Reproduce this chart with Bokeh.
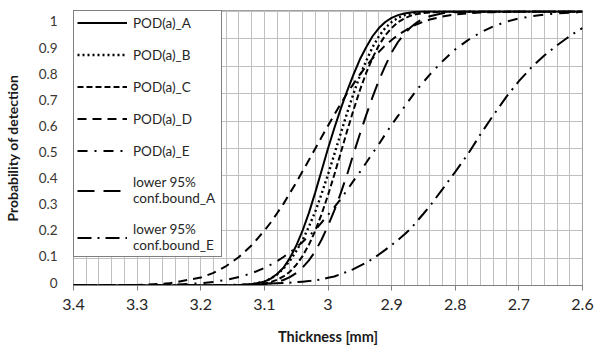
from bokeh.plotting import figure
from bokeh.models import (Range1d, FixedTicker, CustomJSTickFormatter, Legend,
                          LegendItem, LinearAxis)
from bokeh.embed import file_html
from bokeh.resources import INLINE

thickness = [3.40, 3.30, 3.25, 3.20, 3.18, 3.16, 3.14, 3.12,
             3.10, 3.09, 3.08, 3.07, 3.06, 3.05, 3.04, 3.03, 3.02, 3.01,
             3.00, 2.99, 2.98, 2.97, 2.96, 2.95, 2.94, 2.93, 2.92, 2.91,
             2.90, 2.89, 2.88, 2.87, 2.86, 2.85, 2.84,
             2.82, 2.80, 2.78, 2.76, 2.74, 2.72, 2.70, 2.68, 2.66, 2.64, 2.62, 2.60]

pod_A = [0, 0, 0, 0, 0, 0.0003, 0.001, 0.005,
         0.014, 0.025, 0.042, 0.065, 0.10, 0.145, 0.20, 0.265, 0.34, 0.42,
         0.50, 0.575, 0.645, 0.71, 0.77, 0.825, 0.87, 0.91, 0.94, 0.962,
         0.977, 0.987, 0.993, 0.997, 0.999, 1.0, 1.0,
         1.0, 1.0, 1.0, 1.0, 1.0, 1.0, 1.0, 1.0, 1.0, 1.0, 1.0, 1.0]

pod_B = [0, 0, 0, 0, 0, 0.0003, 0.001, 0.004,
         0.014, 0.025, 0.04, 0.062, 0.09, 0.125, 0.165, 0.215, 0.27, 0.335,
         0.405, 0.48, 0.555, 0.63, 0.70, 0.765, 0.82, 0.87, 0.91, 0.94,
         0.962, 0.977, 0.987, 0.993, 0.997, 0.999, 1.0,
         1.0, 1.0, 1.0, 1.0, 1.0, 1.0, 1.0, 1.0, 1.0, 1.0, 1.0, 1.0]

pod_C = [0, 0, 0, 0, 0, 0.0001, 0.0006, 0.0023,
         0.0073, 0.0125, 0.021, 0.033, 0.05, 0.075, 0.107, 0.149, 0.20, 0.261,
         0.33, 0.405, 0.484, 0.564, 0.64, 0.712, 0.776, 0.831, 0.877, 0.913,
         0.94, 0.961, 0.975, 0.985, 0.991, 0.995, 0.997,
         0.999, 1.0, 1.0, 1.0, 1.0, 1.0, 1.0, 1.0, 1.0, 1.0, 1.0, 1.0]

pod_D = [0, 0.0016, 0.0078, 0.029, 0.046, 0.071, 0.104, 0.147,
         0.20, 0.23, 0.264, 0.298, 0.337, 0.376, 0.417, 0.458, 0.50, 0.542,
         0.583, 0.624, 0.663, 0.702, 0.736, 0.77, 0.80, 0.829, 0.853, 0.877,
         0.896, 0.915, 0.929, 0.943, 0.954, 0.963, 0.971,
         0.982, 0.990, 0.994, 0.997, 0.998, 0.999, 1.0, 1.0, 1.0, 1.0, 1.0, 1.0]

pod_E = [0, 0.0006, 0.0023, 0.0084, 0.0132, 0.0207, 0.0307, 0.0446,
         0.0643, 0.076, 0.0885, 0.104, 0.121, 0.138, 0.159, 0.181, 0.203, 0.23,
         0.258, 0.286, 0.316, 0.348, 0.382, 0.414, 0.448, 0.483, 0.516, 0.552,
         0.587, 0.619, 0.652, 0.684, 0.716, 0.743, 0.770,
         0.819, 0.862, 0.896, 0.924, 0.946, 0.963, 0.975, 0.983, 0.989, 0.993, 0.996, 0.998]

lower_A = [0, 0, 0, 0, 0, 0.0001, 0.0004, 0.0015,
           0.0047, 0.0078, 0.0125, 0.020, 0.0307, 0.0455, 0.0655, 0.092, 0.125, 0.168,
           0.218, 0.274, 0.337, 0.405, 0.48, 0.552, 0.622, 0.688, 0.749, 0.802,
           0.851, 0.889, 0.919, 0.943, 0.961, 0.974, 0.983,
           0.994, 0.998, 1.0, 1.0, 1.0, 1.0, 1.0, 1.0, 1.0, 1.0, 1.0, 1.0]

lower_E = [0, 0, 0.0005, 0.001, 0.0015, 0.002, 0.003, 0.004,
           0.006, 0.007, 0.008, 0.009, 0.01, 0.012, 0.014, 0.016, 0.019, 0.022,
           0.028, 0.033, 0.042, 0.05, 0.06, 0.072, 0.083, 0.097, 0.113, 0.13,
           0.148, 0.166, 0.186, 0.208, 0.235, 0.262, 0.29,
           0.352, 0.415, 0.48, 0.553, 0.622, 0.688, 0.746, 0.797, 0.84, 0.877, 0.911, 0.94]

series_names = ["POD(a)_A", "POD(a)_B", "POD(a)_C", "POD(a)_D", "POD(a)_E",
                "lower 95%\nconf.bound_A", "lower 95%\nconf.bound_E"]
series_values = [pod_A, pod_B, pod_C, pod_D, pod_E, lower_A, lower_E]

x_tick_values = [3.4, 3.3, 3.2, 3.1, 3.0, 2.9, 2.8, 2.7, 2.6]
y_tick_values = [0, 0.1, 0.2, 0.3, 0.4, 0.5, 0.6, 0.7, 0.8, 0.9, 1.0]

for vals in series_values:
    assert len(vals) == len(thickness)

# styles: (dash, width)
styles = [("solid", 2), ("2 3", 2.4), ("6 3", 2), ("9 6", 2), ("10 7 2 7", 2),
          ("17 9", 2), ("14 6 2 6", 2)]

p = figure(width=594, height=347,
           x_range=Range1d(3.4, 2.6), y_range=Range1d(0, 1.004),
           output_backend="svg", toolbar_location=None,
           min_border_left=71, min_border_right=12, min_border_top=10, min_border_bottom=59,
           background_fill_color="white", border_fill_color="white")

minor_x = [round(3.4 - 0.02 * i, 2) for i in range(41)]

p.xaxis.ticker = FixedTicker(ticks=x_tick_values, minor_ticks=minor_x)
p.xaxis.formatter = CustomJSTickFormatter(code="return String(Math.round(tick*10)/10);")

grid_col = "#c0c0c0"
p.xgrid.grid_line_color = grid_col
p.xgrid.minor_grid_line_color = grid_col
p.ygrid.grid_line_color = grid_col
p.ygrid.ticker = FixedTicker(ticks=y_tick_values)
p.outline_line_color = "#a0a0a0"

p.xaxis.axis_line_color = "#808080"
p.xaxis.major_tick_line_color = "#808080"
p.xaxis.major_tick_out = 5
p.xaxis.major_tick_in = 0
p.xaxis.minor_tick_line_color = None
p.xaxis.major_label_text_font = "Lato"
p.xaxis.major_label_text_font_size = "16px"
p.xaxis.major_label_text_color = "#262626"
p.xaxis.major_label_standoff = 8
p.xaxis.axis_label = "Thickness [mm]"
p.xaxis.axis_label_text_font = "Lato"
p.xaxis.axis_label_text_font_style = "bold"
p.xaxis.axis_label_text_font_size = "14.5px"
p.xaxis.axis_label_text_color = "#1a1a1a"
p.xaxis.axis_label_standoff = 15

# main y axis only drives the grid; the labelled axis below sits where the
# reference draws its labels
p.yaxis.ticker = FixedTicker(ticks=y_tick_values)
p.yaxis.visible = False

p.extra_y_ranges = {"labels": Range1d(-0.0114, 1.0417)}
yax = LinearAxis(y_range_name="labels",
                 ticker=FixedTicker(ticks=y_tick_values),
                 formatter=CustomJSTickFormatter(code="return String(Math.round(tick*10)/10);"),
                 axis_line_color=None, major_tick_line_color=None,
                 minor_tick_line_color=None, major_tick_out=0, major_tick_in=0,
                 major_label_standoff=16,
                 major_label_text_font="Lato", major_label_text_font_size="13.5px",
                 major_label_text_color="#3a3530",
                 axis_label="Probability of detection",
                 axis_label_text_font="Lato", axis_label_text_font_style="bold",
                 axis_label_text_font_size="14px", axis_label_text_color="#1a1a1a",
                 axis_label_standoff=15)
p.add_layout(yax, "left")

items = []
for name, vals, (dash, w) in zip(series_names, series_values, styles):
    r = p.line(thickness, vals, line_color="black", line_width=w, line_dash=dash)
    items.append(LegendItem(label=name, renderers=[r]))

legend = Legend(items=items, location="top_left", margin=0, padding=3,
                border_line_color="black", border_line_width=1,
                background_fill_color="white", background_fill_alpha=1.0,
                label_text_font="Lato", label_text_font_size="13.5px",
                label_text_color="#262626", label_text_line_height=1.0,
                glyph_width=50, glyph_height=17, label_height=17,
                label_standoff=6, label_width=85, spacing=15)
p.add_layout(legend)

open("out.html", "w").write(file_html(p, INLINE))
